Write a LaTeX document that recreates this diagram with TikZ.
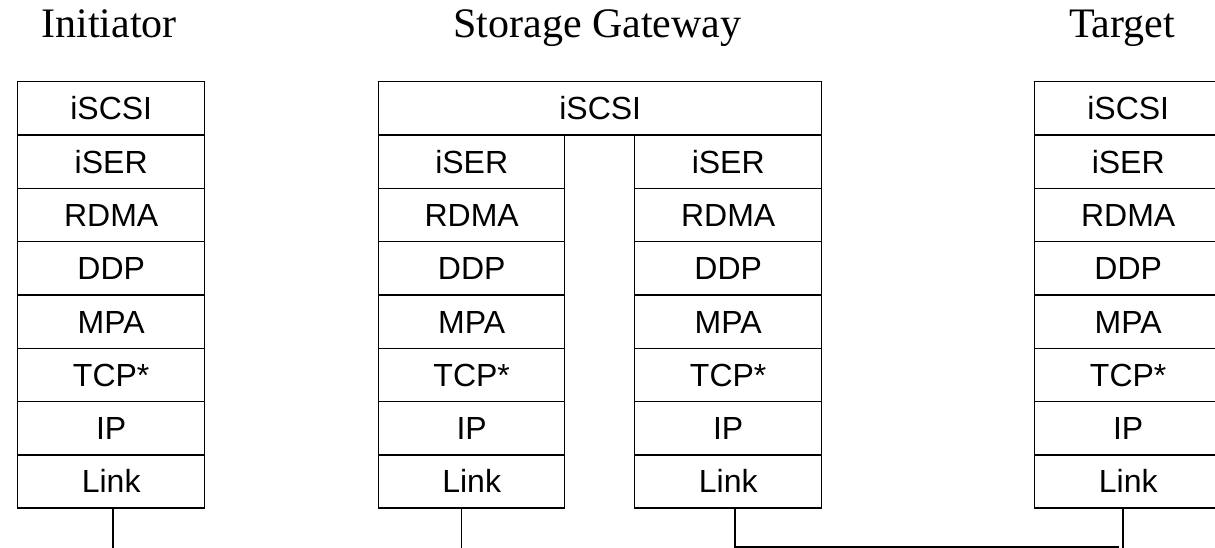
\documentclass[tikz,border=0pt]{standalone}
\usepackage{fontspec}
\setmainfont{Liberation Serif}
\newfontfamily\labelfont{Liberation Sans}
\begin{document}
\begin{tikzpicture}[x=1pt,y=-1pt,
  layer/.style={draw,line width=1.4pt,rectangle,inner sep=0pt,
    minimum height=53.3pt,anchor=north west,
    font=\labelfont\fontsize{32}{38}\selectfont,
    text height=23pt,text depth=0pt},
  title/.style={font=\fontsize{42}{50}\selectfont,anchor=base,inner sep=0pt},
  wire/.style={line width=1.4pt}]
\useasboundingbox (0,0) rectangle (1215,548);

% host titles
\node[title] (initTitle) at (109,38) {Initiator};
\node[title] (gwTitle) at (597.5,38) {Storage Gateway};
\node[title] (tgtTitle) at (1122,38) {Target};

% initiator protocol stack
\foreach \t [count=\k] in {iSCSI,iSER,RDMA,DDP,MPA,TCP*,IP,Link}
  \node[layer,minimum width=187pt] (i\k) at (17,{81+(\k-1)*53.3}) {\t};

% gateway: shared iSCSI layer over two transport stacks
\node[layer,minimum width=443pt] (g1) at (378,81) {iSCSI};
\foreach \t [count=\k from 2] in {iSER,RDMA,DDP,MPA,TCP*,IP,Link}{
  \node[layer,minimum width=186pt] (gl\k) at (378,{81+(\k-1)*53.3}) {\t};
  \node[layer,minimum width=187pt] (gr\k) at (634,{81+(\k-1)*53.3}) {\t};
}

% target protocol stack
\foreach \t [count=\k] in {iSCSI,iSER,RDMA,DDP,MPA,TCP*,IP,Link}
  \node[layer,minimum width=187pt] (t\k) at (1034,{81+(\k-1)*53.3}) {\t};

% links
\coordinate (iEnd) at (113,548);
\draw[wire] (i8.south -| iEnd) -- (iEnd);
\coordinate (glEnd) at (461.5,548);
\draw[wire] (gl8.south -| glEnd) -- (glEnd);
\coordinate (grBend) at (735,547);
\coordinate (grEnd) at (1119,547);
\draw[wire] (gr8.south -| grBend) -- (grBend) -- (grEnd);
\coordinate (tEnd) at (1123,548);
\draw[wire] (t8.south -| tEnd) -- (tEnd);
\end{tikzpicture}
\end{document}
